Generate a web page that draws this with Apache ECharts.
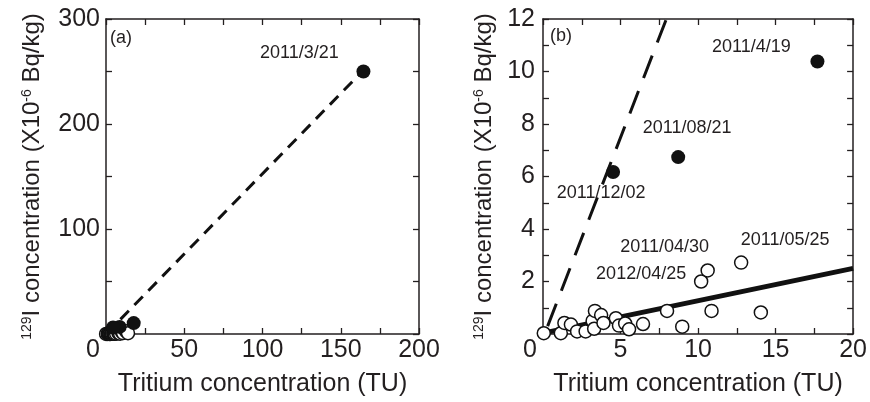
<!DOCTYPE html>
<html>
<head>
<meta charset="utf-8">
<script src="https://cdn.jsdelivr.net/npm/echarts@6/dist/echarts.min.js"></script>
<style>
  html, body { margin: 0; background: #fff; }
  #chart { width: 870px; height: 402px; }
</style>
</head>
<body>
<div id="chart"></div>
<script>
// data: tritium (TU) vs 129I (x10^-6 Bq/kg)
const openPoints = [
  [0.05, 0.03], [1.15, 0.03], [1.38, 0.42], [1.8, 0.36], [2.2, 0.1], [2.75, 0.1],
  [3.2, 0.5], [3.3, 0.2], [3.35, 0.88], [3.75, 0.72], [3.9, 0.42], [4.7, 0.6],
  [4.9, 0.32], [5.3, 0.4], [5.55, 0.18], [6.45, 0.38], [8.0, 0.88], [8.98, 0.28],
  [10.2, 2.0], [10.62, 2.42], [10.87, 0.88], [12.78, 2.72], [14.05, 0.82]
];
const openDates = [
  '', '', '', '', '', '', '', '', '', '', '', '', '', '', '', '', '', '',
  '2012/04/25', '2011/04/30', '', '2011/05/25', ''
];
const filledPoints = [[164.5, 250], [17.7, 10.38], [8.72, 6.74], [4.52, 6.17]];
const filledDates = ['2011/3/21', '2011/4/19', '2011/08/21', '2011/12/02'];
const dashedFit = [[0.3, 0.3], [165, 252]];
const solidFit = [[0.3, 0.07], [20, 2.5]];
const panelA = { label: '(a)', xMax: 200, xStep: 50, yMax: 300, yStep: 100 };
const panelB = { label: '(b)', xMax: 20, xStep: 5, yMax: 12, yStep: 2 };

const ink = '#231f20';
const font = 'Liberation Sans, Arial, sans-serif';

// where each date note sits relative to its point
const noteOffset = {
  '2011/3/21': [-64, -18],
  '2011/4/19': [-66, -14],
  '2011/08/21': [9, -29],
  '2011/12/02': [-12, 21],
  '2011/05/25': [44, -23],
  '2011/04/30': [-43, -23],
  '2012/04/25': [-60, -7]
};

const tickStyle = { color: ink, width: 1.3 };

const makeAxes = (gi, p, yMargin, yGap) => {
  const xBase = {
    gridIndex: gi, type: 'value', min: 0, max: p.xMax, interval: p.xStep,
    axisLine: { onZero: false, lineStyle: { color: ink, width: 1.5 } },
    axisTick: { inside: true, length: 6, lineStyle: tickStyle },
    minorTick: { show: true, splitNumber: 2, length: 6, lineStyle: tickStyle },
    splitLine: { show: false }
  };
  const yBase = {
    gridIndex: gi, type: 'value', min: 0, max: p.yMax, interval: p.yStep,
    axisLine: { onZero: false, lineStyle: { color: ink, width: 1.5 } },
    axisTick: { inside: true, length: 6, lineStyle: tickStyle },
    minorTick: { show: true, splitNumber: 2, length: 6, lineStyle: tickStyle },
    splitLine: { show: false }
  };
  return {
    x: [
      {
        ...xBase, position: 'bottom',
        axisLabel: {
          fontSize: 25, color: ink, fontFamily: font, margin: 4,
          formatter: v => v === 0 ? '{z|0}' : String(v),
          rich: { z: { fontSize: 25, color: ink, fontFamily: font, padding: [0, 26, 0, 0] } }
        },
        name: 'Tritium concentration (TU)', nameLocation: 'middle', nameGap: 38,
        nameTextStyle: { fontSize: 25, color: ink, fontFamily: font }
      },
      { ...xBase, position: 'top', axisLabel: { show: false } }
    ],
    y: [
      {
        ...yBase, position: 'left',
        axisLabel: {
          fontSize: 25, color: ink, fontFamily: font, margin: yMargin,
          formatter: v => v === 0 ? '' : String(v)
        },
        name: '{sup|129}I concentration (X10{sup|-6} Bq/kg)',
        nameLocation: 'middle', nameRotate: 90, nameGap: yGap,
        nameTextStyle: {
          fontSize: 24, color: ink, fontFamily: font,
          rich: { sup: { fontSize: 14, color: ink, fontFamily: font, verticalAlign: 'top' } }
        }
      },
      { ...yBase, position: 'right', axisLabel: { show: false } }
    ]
  };
};

const axA = makeAxes(0, panelA, 6, 62);
const axB = makeAxes(1, panelB, 8, 47);

const noteItem = (pt, date, show) => ({
  value: pt,
  label: date && show ? {
    show: true, formatter: date, position: 'inside', offset: noteOffset[date],
    fontSize: 18, color: ink, fontFamily: font
  } : { show: false }
});

const buildSeries = (xi, p, dashType, showNote) => {
  const inRange = (pt) => pt[0] <= p.xMax && pt[1] <= p.yMax;
  const list = [{
    type: 'line', xAxisIndex: xi, yAxisIndex: xi, data: dashedFit, showSymbol: false,
    lineStyle: { color: '#111', width: 3, type: dashType }, silent: true, z: 2
  }];
  if (p === panelB) {
    list.push({
      type: 'line', xAxisIndex: xi, yAxisIndex: xi, data: solidFit, showSymbol: false,
      lineStyle: { color: '#111', width: 5 }, silent: true, z: 2
    });
  }
  list.push({
    type: 'scatter', xAxisIndex: xi, yAxisIndex: xi, symbolSize: 13, z: 3,
    itemStyle: { color: '#fff', borderColor: '#111', borderWidth: 1.5, opacity: 1 },
    data: openPoints.map((pt, i) => noteItem(pt, openDates[i], showNote(openDates[i]))).filter(d => inRange(d.value))
  });
  list.push({
    type: 'scatter', xAxisIndex: xi, yAxisIndex: xi, symbolSize: 14, z: 4,
    itemStyle: { color: '#111', opacity: 1 },
    data: filledPoints.map((pt, i) => noteItem(pt, filledDates[i], showNote(filledDates[i]))).filter(d => inRange(d.value))
  });
  return list;
};

const chart = echarts.init(document.getElementById('chart'), null, { renderer: 'canvas' });
chart.setOption({
  animation: false,
  backgroundColor: '#fff',
  title: [
    { text: panelA.label, left: 110, top: 29, padding: 0, textStyle: { fontSize: 18, fontWeight: 'normal', color: ink, fontFamily: font } },
    { text: panelB.label, left: 550, top: 27, padding: 0, textStyle: { fontSize: 18, fontWeight: 'normal', color: ink, fontFamily: font } }
  ],
  grid: [
    { left: 106, top: 19, width: 313, height: 318 },
    { left: 543, top: 19, width: 314, height: 318 }
  ],
  xAxis: [...axA.x, ...axB.x],
  yAxis: [...axA.y, ...axB.y],
  series: [
    ...buildSeries(0, panelA, [12, 8], d => d === '2011/3/21'),
    ...buildSeries(2, panelB, [24, 14], d => d !== '2011/3/21')
  ]
});
</script>
</body>
</html>
